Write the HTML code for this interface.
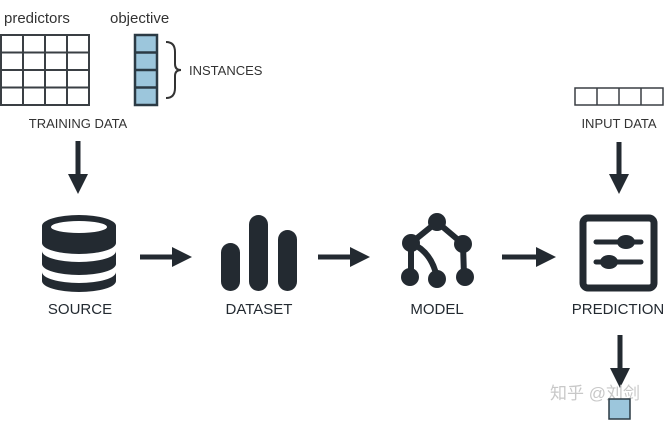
<!DOCTYPE html>
<html><head><style>
body{margin:0;background:#fff;width:671px;height:422px;overflow:hidden}
svg text{font-family:"Liberation Sans","Noto Sans CJK SC",sans-serif}
</style></head><body>
<svg width="671" height="422" viewBox="0 0 671 422" xmlns="http://www.w3.org/2000/svg">
<defs><marker id="a" markerWidth="4" markerHeight="4" refX="2" refY="2" orient="auto" markerUnits="strokeWidth"><path d="M0,0 L4,2 L0,4 z" fill="#232a31"/></marker></defs>
<g fill="#333" font-size="15">
<text x="4" y="23">predictors</text>
<text x="110" y="23">objective</text>
</g>
<g stroke="#3a3f44" stroke-width="2" fill="none">
<rect x="1" y="35" width="88" height="70"/>
<path d="M23 35V105M45 35V105M67 35V105M1 52.5H89M1 70H89M1 87.5H89"/>
</g>
<rect x="135" y="35" width="22" height="70" fill="#9cc6dc" stroke="#2b3a44" stroke-width="2.5"/>
<path d="M135 52.5H157M135 70H157M135 87.5H157" stroke="#2b3a44" stroke-width="2.5"/>
<path d="M166 42 Q175 42 175 52 L175 64 Q175 70 181 70 Q175 70 175 76 L175 88 Q175 98 166 98" fill="none" stroke="#333" stroke-width="2"/>
<g fill="#333" font-size="13">
<text x="189" y="75">INSTANCES</text>
<text x="78" y="128" text-anchor="middle">TRAINING DATA</text>
<text x="619" y="128" text-anchor="middle">INPUT DATA</text>
</g>
<g stroke="#3a3f44" stroke-width="1.5" fill="none">
<rect x="575" y="88" width="88" height="17"/>
<path d="M597 88V105M619 88V105M641 88V105"/>
</g>
<g stroke="#232a31" stroke-width="5" marker-end="url(#a)">
<line x1="78" y1="141" x2="78" y2="184"/>
<line x1="619" y1="142" x2="619" y2="184"/>
<line x1="620" y1="335" x2="620" y2="378"/>
<line x1="140" y1="257" x2="182" y2="257"/>
<line x1="318" y1="257" x2="360" y2="257"/>
<line x1="502" y1="257" x2="546" y2="257"/>
</g>
<!-- database -->
<g fill="#232a31">
<path d="M42 226 A37 11 0 0 1 116 226 L116 243 A37 11 0 0 1 42 243Z"/>
<path d="M42 251 A37 11 0 0 0 116 251 L116 264 A37 11 0 0 1 42 264Z"/>
<path d="M42 272 A37 11 0 0 0 116 272 L116 281 A37 11 0 0 1 42 281Z"/>
</g>
<ellipse cx="79" cy="227" rx="28" ry="6" fill="#fff"/>
<!-- dataset -->
<g fill="#232a31">
<rect x="221" y="243" width="19" height="48" rx="9.5"/>
<rect x="249" y="215" width="19" height="76" rx="9.5"/>
<rect x="278" y="230" width="19" height="61" rx="9.5"/>
</g>
<!-- model -->
<g stroke="#232a31" stroke-width="6" fill="none">
<path d="M411 276 L411 243 L437 222 L463 244 L464 276"/>
<path d="M411 243 Q432 252 437 278"/>
</g>
<g fill="#232a31">
<circle cx="437" cy="222" r="9"/><circle cx="411" cy="243" r="9"/><circle cx="463" cy="244" r="9"/>
<circle cx="410" cy="277" r="9"/><circle cx="437" cy="279" r="9"/><circle cx="465" cy="277" r="9"/>
</g>
<!-- prediction -->
<rect x="583" y="218" width="71" height="70" rx="5" fill="none" stroke="#232a31" stroke-width="7"/>
<g stroke="#232a31" stroke-width="5" stroke-linecap="round">
<line x1="596" y1="242" x2="641" y2="242"/><line x1="596" y1="262" x2="641" y2="262"/>
</g>
<g fill="#232a31"><ellipse cx="626" cy="242" rx="9" ry="7"/><ellipse cx="609" cy="262" rx="9" ry="7"/></g>
<g fill="#232a31" font-size="15" text-anchor="middle">
<text x="80" y="314">SOURCE</text>
<text x="259" y="314">DATASET</text>
<text x="437" y="314">MODEL</text>
<text x="618" y="314">PREDICTION</text>
</g>
<text x="550" y="399" font-size="17" fill="#c8c8c8">知乎 @刘剑</text>
<rect x="609" y="399" width="21" height="20" fill="#9cc6dc" stroke="#2b3a44" stroke-width="1.5"/>
</svg>
</body></html>
